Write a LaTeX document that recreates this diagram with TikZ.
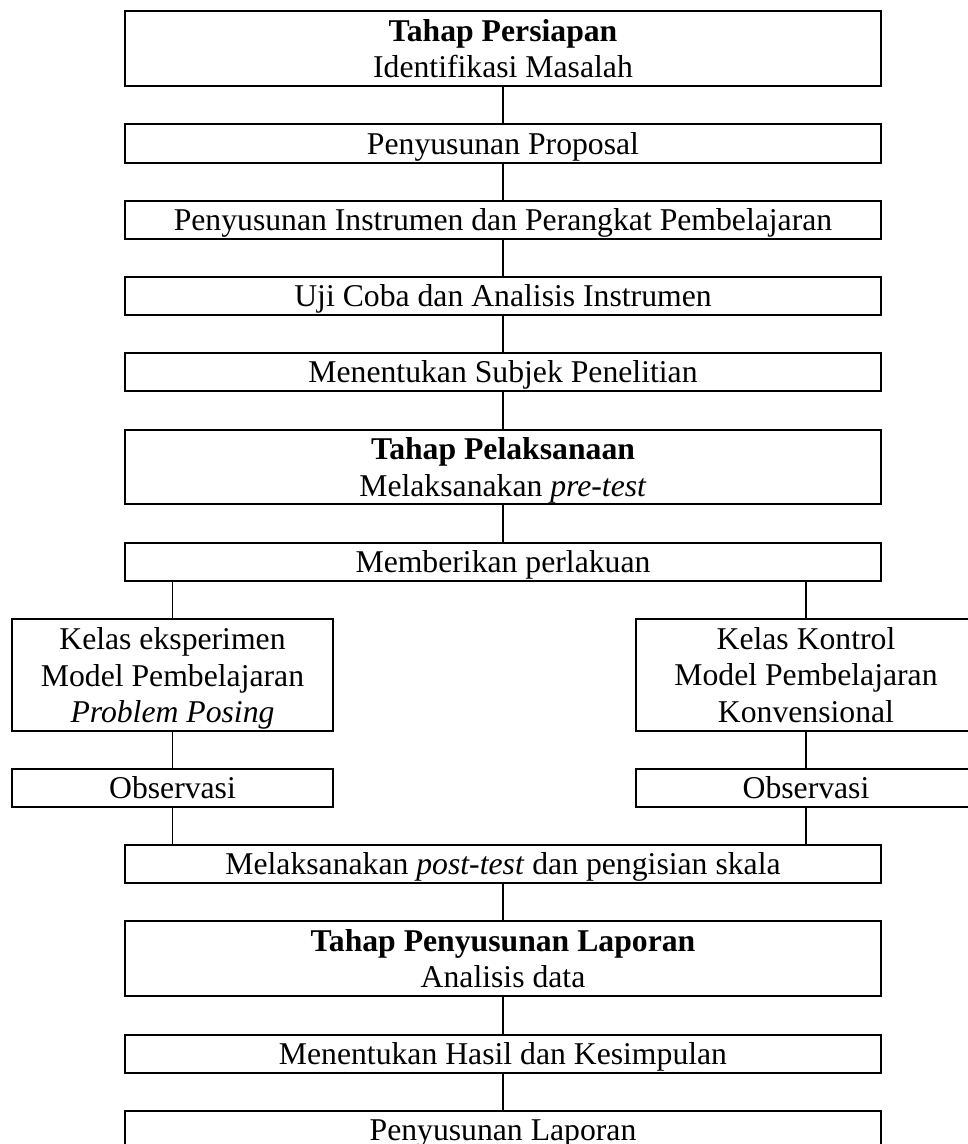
\documentclass[tikz,border=0pt]{standalone}
\usepackage{fontspec}
\setmainfont{Liberation Serif}
\begin{document}
\begin{tikzpicture}[x=1pt,y=-1pt,
  box/.style={draw=black,line width=2.2pt,rectangle,inner sep=0pt,align=center,
    font=\fontsize{31.7}{36.5}\selectfont},
  oneline/.style={text height=24pt,text depth=3pt},
  link/.style={draw=black,line width=1.5pt}]
\path[use as bounding box,clip] (0,0) rectangle (968,1144);
\fill[white] (0,0) rectangle (968,1144);
% main column boxes: centre x = 503, width 756
\node[box,minimum width=756pt,minimum height=75pt] (b1) at (503,48.5) {\textbf{Tahap Persiapan}\\Identifikasi Masalah};
\node[box,oneline,minimum width=756pt,minimum height=39pt] (b2) at (503,143.5) {Penyusunan Proposal};
\node[box,oneline,minimum width=756pt,minimum height=38pt] (b3) at (503,220) {Penyusunan Instrumen dan Perangkat Pembelajaran};
\node[box,oneline,minimum width=756pt,minimum height=38pt] (b4) at (503,296) {Uji Coba dan Analisis Instrumen};
\node[box,oneline,minimum width=756pt,minimum height=38pt] (b5) at (503,372) {Menentukan Subjek Penelitian};
\node[box,minimum width=756pt,minimum height=74pt] (b6) at (503,467) {\textbf{Tahap Pelaksanaan}\\\smash{Melaksanakan \textit{pre-test}}};
\node[box,oneline,minimum width=756pt,minimum height=38pt] (b7) at (503,562) {Memberikan perlakuan};
\node[box,minimum width=321pt,minimum height=112pt] (kl) at (172.5,675) {Kelas eksperimen\\Model Pembelajaran\\\smash{\textit{Problem Posing}}};
\node[box,minimum width=340pt,minimum height=112pt] (kr) at (806,675) {Kelas Kontrol\\Model Pembelajaran\\Konvensional};
\node[box,oneline,minimum width=321pt,minimum height=38pt] (ol) at (172.5,788) {Observasi};
\node[box,oneline,minimum width=340pt,minimum height=38pt] (or) at (806,788) {Observasi};
\node[box,oneline,minimum width=756pt,minimum height=38pt] (b8) at (503,864) {Melaksanakan \textit{post-test} dan pengisian skala};
\node[box,minimum width=756pt,minimum height=75pt] (b9) at (503,958.5) {\textbf{Tahap Penyusunan Laporan}\\Analisis data};
\node[box,oneline,minimum width=756pt,minimum height=38pt] (b10) at (503,1054) {Menentukan Hasil dan Kesimpulan};
\node[box,oneline,minimum width=756pt,minimum height=38pt] (b11) at (503,1130) {Penyusunan Laporan};
% connectors
\draw[link] (b1) -- (b2);
\draw[link] (b2) -- (b3);
\draw[link] (b3) -- (b4);
\draw[link] (b4) -- (b5);
\draw[link] (b5) -- (b6);
\draw[link] (b6) -- (b7);
\draw[link] (b7.south -| kl.north) -- (kl.north);
\draw[link] (b7.south -| kr.north) -- (kr.north);
\draw[link] (kl) -- (ol);
\draw[link] (kr) -- (or);
\draw[link] (ol.south) -- (ol.south |- b8.north);
\draw[link] (or.south) -- (or.south |- b8.north);
\draw[link] (b8) -- (b9);
\draw[link] (b9) -- (b10);
\draw[link] (b10) -- (b11);
\end{tikzpicture}
\end{document}
